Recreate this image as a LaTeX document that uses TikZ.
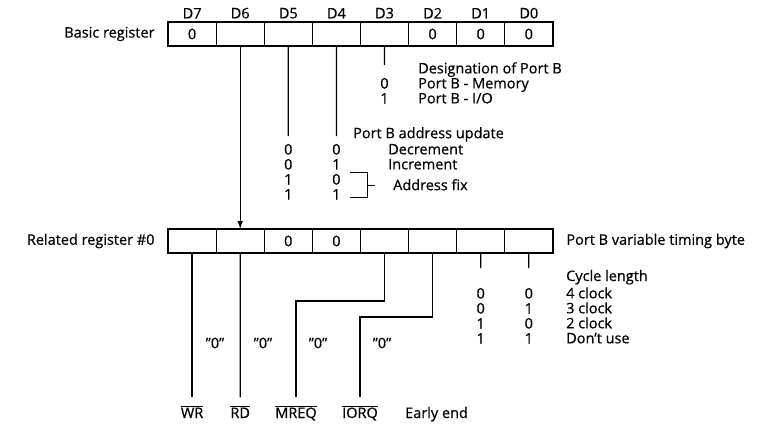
\documentclass[tikz,border=0pt]{standalone}
\usepackage{fontspec}
\setmainfont{Open Sans}[RawFeature={embolden=0.5}]
\usetikzlibrary{arrows.meta, positioning}

\newcommand{\ovl}[1]{$\overline{\hbox{#1}}$}

\begin{document}
\begin{tikzpicture}[
    x=1pt, y=1pt,
    font=\fontsize{14.5}{15}\selectfont,
    cell/.style = {rectangle, draw, line width=1.3pt, minimum width=48.1pt, minimum height=24pt, inner sep=0pt, outer sep=0pt},
    col/.style = {align=center, anchor=north, inner sep=0pt},
    list/.style = {align=left, anchor=north west, inner sep=0pt},
    txt/.style = {anchor=base west, inner sep=0pt},
    sig/.style = {anchor=base, inner xsep=2pt, inner ysep=8pt},
    line/.style = {draw, line width=1.3pt},
    arr/.style = {draw, line width=1.3pt, -{Latex[length=2.8mm, width=2mm]}}
]
    \useasboundingbox (0,0) rectangle (762,-423);

    % Basic register
    \node (b7) [cell, label={above:D7}] at (192.1,-34) {0};
    \node (b6) [cell, right=0pt of b7, label={above:D6}] {};
    \node (b5) [cell, right=0pt of b6, label={above:D5}] {};
    \node (b4) [cell, right=0pt of b5, label={above:D4}] {};
    \node (b3) [cell, right=0pt of b4, label={above:D3}] {};
    \node (b2) [cell, right=0pt of b3, label={above:D2}] {0};
    \node (b1) [cell, right=0pt of b2, label={above:D1}] {0};
    \node (b0) [cell, right=0pt of b1, label={above:D0}] {0};
    \node (basic) [left=10pt of b7] {Basic register};

    % Related register #0
    \node (r7) [cell] at (192.1,-241) {};
    \node (r6) [cell, right=0pt of r7] {};
    \node (r5) [cell, right=0pt of r6] {0};
    \node (r4) [cell, right=0pt of r5] {0};
    \node (r3) [cell, right=0pt of r4] {};
    \node (r2) [cell, right=0pt of r3] {};
    \node (r1) [cell, right=0pt of r2] {};
    \node (r0) [cell, right=0pt of r1] {};
    \node (related) [left=10pt of r7] {Related register \#0};
    \node (timing) [right=10pt of r0] {Port B variable timing byte};

    % D3: port B designation
    \node (v3) [col] at (384.5,-77.8) {0\\1};
    \node (desig) [list] at (418,-62.1) {Designation of Port B\\Port B - Memory\\Port B - I/O};
    \draw [line, shorten >=12.8pt] (b3) -- (v3);

    % D5 D4: address update
    \node (upd) [txt] at (353,-138.2) {Port B address update};
    \node (v5) [col] at (288.3,-143.8) {0\\0\\1\\1};
    \node (v4) [col] at (336.4,-143.8) {0\\1\\0\\1};
    \node (mode) [list] at (388,-143.8) {Decrement\\Increment};
    \node (fix) [txt] at (393,-190.2) {Address fix};
    \draw [line, shorten >=7.8pt] (b5) -- (v5);
    \draw [line, shorten >=7.8pt] (b4) -- (v4);
    \draw [line, line width=1pt] (350,-172) -| (367,-197) -- (350,-197);
    \draw [line, line width=1pt] (367,-185) -- (375,-185);

    % D6 copied down
    \draw [arr] (b6) -- (r6);

    % D1 D0: cycle length
    \node (cyc) [txt] at (566,-281) {Cycle length};
    \node (c1) [col] at (480.7,-287.8) {0\\0\\1\\1};
    \node (c0) [col] at (528.8,-287.8) {0\\1\\0\\1};
    \node (clk) [list] at (566,-287.1) {4 clock\\3 clock\\2 clock\\Don’t use};
    \draw [line, shorten >=19.8pt] (r1) -- (c1);
    \draw [line, shorten >=19.8pt] (r0) -- (c0);

    % Early end signals
    \node (wr) [sig] at (192.1,-418) {\ovl{WR}};
    \node (rd) [sig] at (240.2,-418) {\ovl{RD}};
    \node (mreq) [sig] at (296,-418) {\ovl{MREQ}};
    \node (iorq) [sig] at (360,-418) {\ovl{IORQ}};
    \node (early) [txt] at (405,-418) {Early end};
    \node (q7) at (215,-343) {”0”};
    \node (q6) at (263,-343) {”0”};
    \node (q3) at (318,-343) {”0”};
    \node (q2) at (382,-343) {”0”};
    \draw [line] (r7) -- (wr);
    \draw [line] (r6) -- (rd);
    \draw [line] (r3.south) -- ++(0,-48) -| (mreq);
    \draw [line] (r2.south) -- ++(0,-64) -| (iorq);

\end{tikzpicture}
\end{document}
